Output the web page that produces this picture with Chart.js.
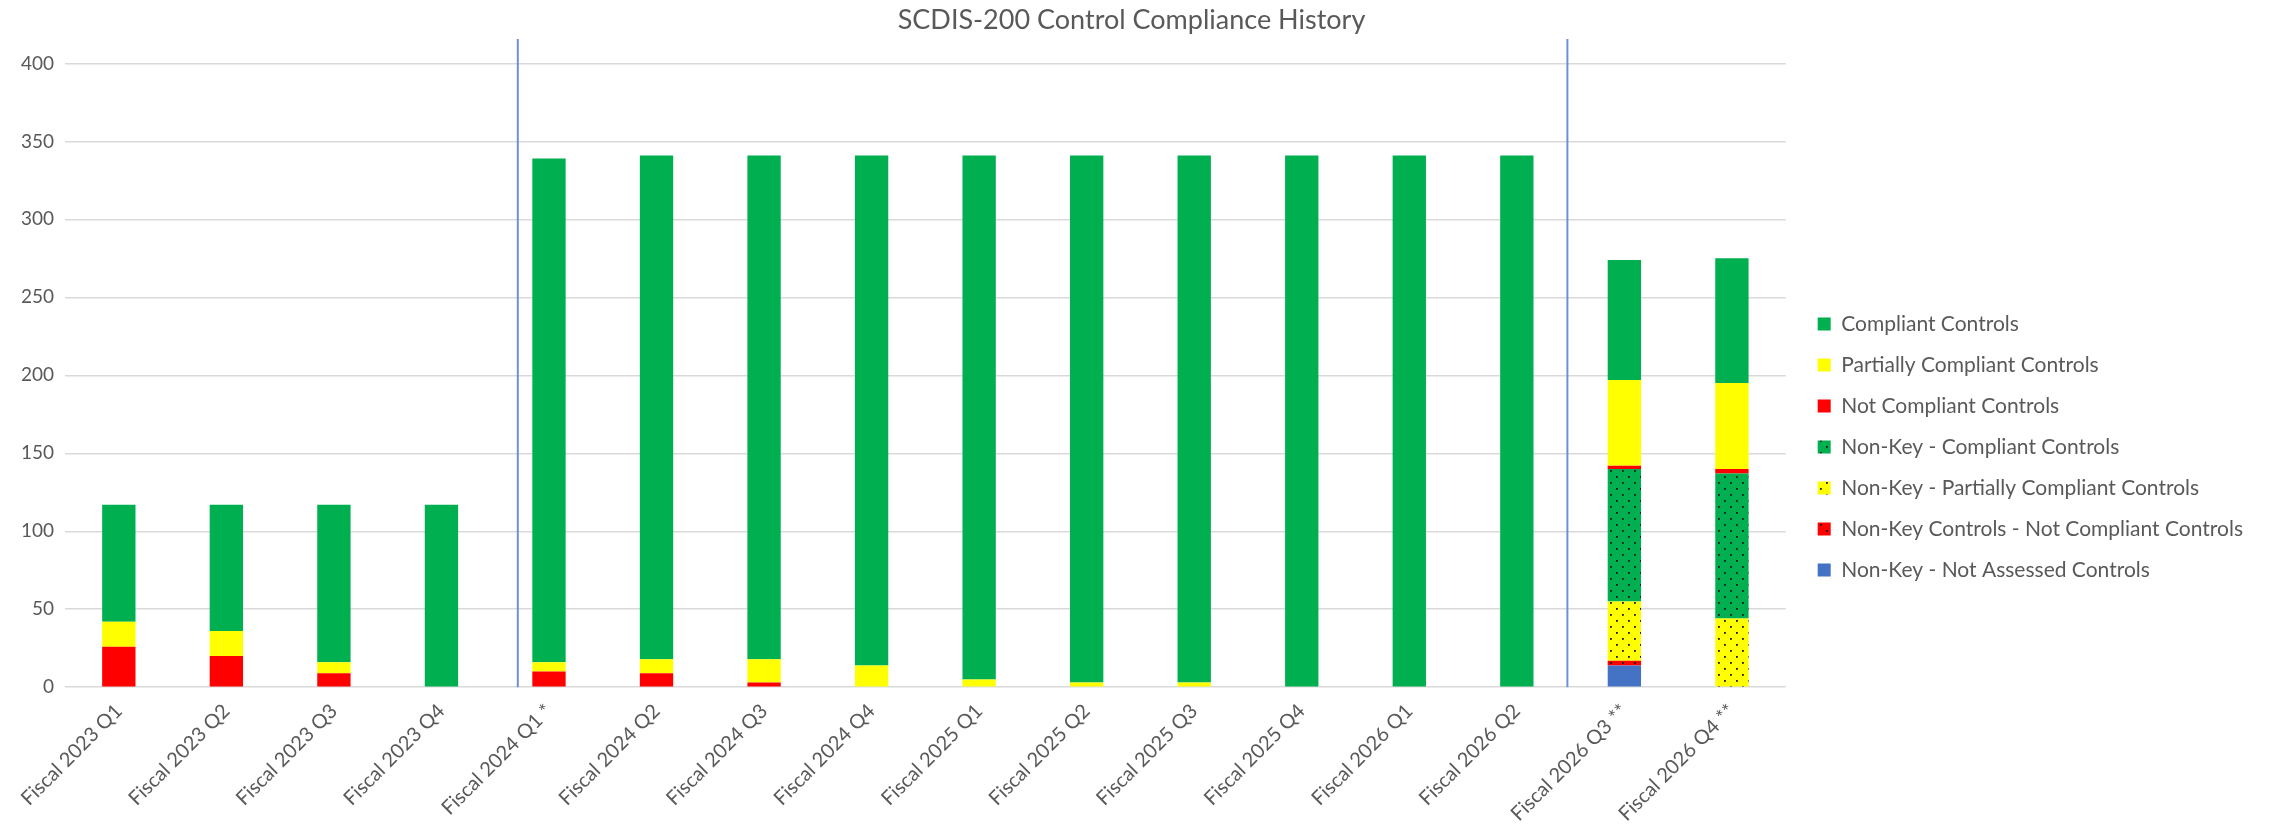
<!DOCTYPE html>
<html>
<head>
<meta charset="utf-8">
<script src="https://cdn.jsdelivr.net/npm/chart.js@4/dist/chart.umd.min.js"></script>
<style>
  html, body { margin: 0; padding: 0; background: #fff; }
  #wrap { width: 2275px; height: 834px; }
</style>
</head>
<body>
<div id="wrap"><canvas id="compliance-barchart"></canvas></div>
<script>
const categories = [
  'Fiscal 2023 Q1', 'Fiscal 2023 Q2', 'Fiscal 2023 Q3', 'Fiscal 2023 Q4',
  'Fiscal 2024 Q1 *', 'Fiscal 2024 Q2', 'Fiscal 2024 Q3', 'Fiscal 2024 Q4',
  'Fiscal 2025 Q1', 'Fiscal 2025 Q2', 'Fiscal 2025 Q3', 'Fiscal 2025 Q4',
  'Fiscal 2026 Q1', 'Fiscal 2026 Q2', 'Fiscal 2026 Q3 **', 'Fiscal 2026 Q4 **',
];

const compliant = [75, 81, 101, 117, 323, 323, 323, 327, 336, 338, 338, 341, 341, 341, 77, 80];
const partiallyCompliant = [16, 16, 7, 0, 6, 9, 15, 14, 5, 3, 3, 0, 0, 0, 55, 55];
const notCompliant = [26, 20, 9, 0, 10, 9, 3, 0, 0, 0, 0, 0, 0, 0, 2, 3];
const nonKeyCompliant = [0, 0, 0, 0, 0, 0, 0, 0, 0, 0, 0, 0, 0, 0, 85, 93];
const nonKeyPartial = [0, 0, 0, 0, 0, 0, 0, 0, 0, 0, 0, 0, 0, 0, 38, 44];
const nonKeyNotCompliant = [0, 0, 0, 0, 0, 0, 0, 0, 0, 0, 0, 0, 0, 0, 3, 0];
const nonKeyNotAssessed = [0, 0, 0, 0, 0, 0, 0, 0, 0, 0, 0, 0, 0, 0, 14, 0];

const yTicks = [0, 50, 100, 150, 200, 250, 300, 350, 400];

// hand drawn separators in the original, in category units
const separators = [3.71, 13.47];

const GREEN = '#00B050';
const YELLOW = '#FFFF00';
const RED = '#FF0000';
const BLUE = '#4472C4';
const TEXT = '#595959';
const FONT = 'Lato, "Open Sans", sans-serif';

// dotted fill used for the non-key series
function dotted(color) {
  const c = document.createElement('canvas');
  c.width = 12;
  c.height = 12;
  const g = c.getContext('2d');
  g.fillStyle = color;
  g.fillRect(0, 0, 12, 12);
  g.fillStyle = '#1a1a1a';
  g.fillRect(2, 2, 1.8, 1.8);
  g.fillRect(8, 8, 1.8, 1.8);
  return g.createPattern(c, 'repeat');
}

const separatorPlugin = {
  id: 'separators',
  afterDatasetsDraw(chart) {
    const { ctx, scales } = chart;
    const x = scales.x;
    const y = scales.y;
    ctx.save();
    ctx.strokeStyle = '#6f8fd6';
    ctx.lineWidth = 2;
    separators.forEach((pos) => {
      const i = Math.floor(pos);
      const a = x.getPixelForValue(i);
      const b = x.getPixelForValue(i + 1);
      const px = a + (b - a) * (pos - i);
      ctx.beginPath();
      ctx.moveTo(px, 39);
      ctx.lineTo(px, y.getPixelForValue(0));
      ctx.stroke();
    });
    ctx.restore();
  },
};

// the legend in the original sits lower than centred and a bit away from the plot
const LEGEND_GAP = 12;
const LEGEND_DROP = 32;
const legendPlace = {
  id: 'legendPlace',
  afterInit(chart) {
    const lg = chart.legend;
    if (!lg) return;
    const fit = lg.fit.bind(lg);
    lg.fit = function () {
      fit();
      this.width += LEGEND_GAP;
    };
  },
  afterLayout(chart) {
    const lg = chart.legend;
    if (!lg) return;
    lg.left += LEGEND_GAP;
    lg.top += LEGEND_DROP;
    lg.bottom += LEGEND_DROP;
  },
};

const ctx = document.getElementById('compliance-barchart').getContext('2d');
const chart = new Chart(ctx, {
  type: 'bar',
  data: {
    labels: categories,
    // first dataset sits at the bottom of the stack
    datasets: [
      { label: 'Non-Key - Not Assessed Controls', data: nonKeyNotAssessed, backgroundColor: BLUE },
      { label: 'Non-Key Controls - Not Compliant Controls', data: nonKeyNotCompliant, backgroundColor: dotted(RED) },
      { label: 'Non-Key - Partially Compliant Controls', data: nonKeyPartial, backgroundColor: dotted(YELLOW) },
      { label: 'Non-Key - Compliant Controls', data: nonKeyCompliant, backgroundColor: dotted(GREEN) },
      { label: 'Not Compliant Controls', data: notCompliant, backgroundColor: RED },
      { label: 'Partially Compliant Controls', data: partiallyCompliant, backgroundColor: YELLOW },
      { label: 'Compliant Controls', data: compliant, backgroundColor: GREEN },
    ],
  },
  options: {
    responsive: true,
    maintainAspectRatio: false,
    animation: false,
    datasets: {
      bar: {
        barPercentage: 0.31,
        categoryPercentage: 1,
        borderWidth: 0,
      },
    },
    layout: {
      padding: { left: 10, right: 22, top: 0, bottom: 4 },
    },
    plugins: {
      title: {
        display: true,
        text: 'SCDIS-200 Control Compliance History',
        color: TEXT,
        font: { family: FONT, size: 27, weight: 'normal' },
        padding: { top: 4, bottom: 27 },
      },
      legend: {
        display: true,
        position: 'right',
        reverse: true,
        labels: {
          color: TEXT,
          font: { family: FONT, size: 21 },
          boxWidth: 13,
          boxHeight: 13,
          padding: 20,
        },
      },
      tooltip: { enabled: false },
    },
    scales: {
      x: {
        stacked: true,
        grid: { display: false },
        border: { display: false },
        ticks: {
          color: TEXT,
          font: { family: FONT, size: 20 },
          minRotation: 45,
          maxRotation: 45,
          autoSkip: false,
          padding: 4,
        },
      },
      y: {
        stacked: true,
        min: 0,
        max: 400,
        afterBuildTicks(scale) {
          scale.ticks = yTicks.map((v) => ({ value: v }));
        },
        grid: { color: '#d9d9d9', lineWidth: 1.5, drawTicks: false },
        border: { display: false },
        ticks: {
          color: TEXT,
          font: { family: FONT, size: 19 },
          padding: 11,
        },
      },
    },
  },
  plugins: [separatorPlugin, legendPlace],
});
</script>
</body>
</html>
